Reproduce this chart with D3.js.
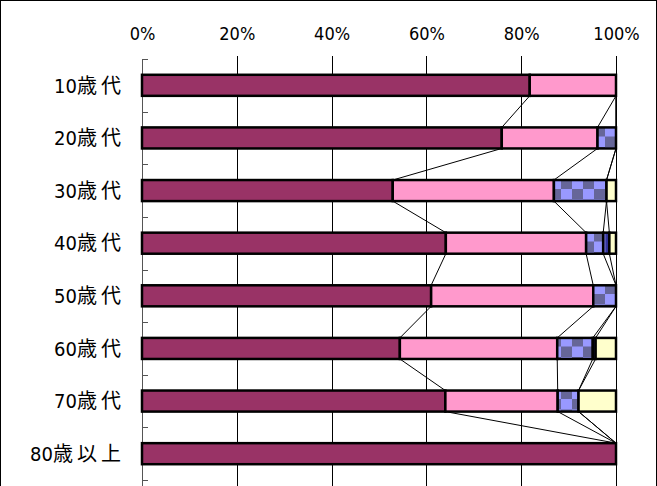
<!DOCTYPE html>
<html><head><meta charset="utf-8">
<script src="https://cdn.jsdelivr.net/npm/d3@7"></script>
<style>
html,body{margin:0;padding:0;background:#fff;}
svg{display:block;}
text{font-family:'Liberation Sans Narrow','DejaVu Sans Condensed','Noto Sans CJK JP',sans-serif;fill:#000;}
</style></head>
<body>
<script>
const categories = ["10歳代","20歳代","30歳代","40歳代","50歳代","60歳代","70歳代","80歳以上"];
const series1 = [81.8, 75.9, 52.9, 64.1, 61.0, 54.4, 64.0, 100];
const series2 = [18.2, 20.2, 34.0, 29.6, 34.2, 33.2, 23.7, 0];
const series3 = [0, 3.9, 11.1, 3.6, 4.8, 7.5, 4.4, 0];
const series4 = [0, 0, 0, 1.3, 0, 0.6, 0, 0];
const series5 = [0, 0, 2.0, 1.4, 0, 4.3, 7.9, 0];
const tickValues = [0, 20, 40, 60, 80, 100];

const W = 657, H = 486;
const svg = d3.select("body").append("svg").attr("width", W).attr("height", H);
const defs = svg.append("defs");
const chk = defs.append("pattern").attr("id","chk").attr("patternUnits","userSpaceOnUse")
  .attr("width",22).attr("height",21).attr("x",0).attr("y",0);
chk.append("rect").attr("width",22).attr("height",21).attr("fill","#9999ff");
chk.append("rect").attr("width",11).attr("height",10.5).attr("fill","#666699");
chk.append("rect").attr("x",11).attr("y",10.5).attr("width",11).attr("height",10.5).attr("fill","#666699");
const dk = defs.append("pattern").attr("id","dk").attr("patternUnits","userSpaceOnUse")
  .attr("width",4).attr("height",4);
dk.append("rect").attr("width",4).attr("height",4).attr("fill","#333399");
dk.append("rect").attr("width",1.5).attr("height",4).attr("fill","#7777dd");

const fills = ["#993366","#ff99cc","url(#chk)","url(#dk)","#ffffcc"];
const seriesList = [series1, series2, series3, series4, series5];

// outer border
svg.append("rect").attr("x",0.5).attr("y",0.5).attr("width",W-1).attr("height",H+10)
  .attr("fill","none").attr("stroke","#000").attr("stroke-width",1);

const x = d3.scaleLinear().domain([0,100]).range([142,616]);
const y = d3.scaleBand().domain(categories).range([59,480]).paddingInner(0.6).paddingOuter(0.3);

// gridlines
svg.append("g").selectAll("line").data(tickValues.slice(1)).join("line")
  .attr("x1", d => Math.round(x(d))+0.5).attr("x2", d => Math.round(x(d))+0.5)
  .attr("y1", 56).attr("y2", 486).attr("stroke","#000").attr("stroke-width",1);

// top axis labels
const xAxis = d3.axisTop(x).tickValues(tickValues).tickFormat(d => d + "%").tickSize(0).tickPadding(0);
const gx = svg.append("g").attr("transform","translate(0,40)").call(xAxis);
gx.select(".domain").remove();
gx.selectAll("text").attr("font-size","18px").attr("font-family",null);

// left axis
svg.append("line").attr("x1",142.5).attr("x2",142.5).attr("y1",59).attr("y2",486)
  .attr("stroke","#555").attr("stroke-width",1);
const step = y.step();
const top0 = y.range()[0];
const boundaries = d3.range(categories.length+1).map(i => top0 + i*step);
svg.append("g").selectAll("line").data(boundaries).join("line")
  .attr("x1",142).attr("x2",148).attr("y1",d=>Math.round(d)+0.5).attr("y2",d=>Math.round(d)+0.5)
  .attr("stroke","#555").attr("stroke-width",1);

const yAxis = d3.axisLeft(y).tickSize(0).tickPadding(17).tickFormat(() => "");
const gy = svg.append("g").attr("transform","translate(142,0)").call(yAxis);
gy.select(".domain").remove();
gy.selectAll("text").attr("font-size","20px").attr("font-family","'Noto Sans CJK JP',sans-serif")
  .attr("dy","0.36em")
  .each(function(d) {
    const m = d.match(/^(\d+)(.*)$/);
    const t = d3.select(this);
    t.append("tspan").attr("letter-spacing","0px").text(m[1]);
    t.append("tspan").attr("letter-spacing","4px").text(m[2]);
  });

// stacking
const rows = categories.map((c,i) => {
  let acc = 0;
  return seriesList.map((s,k) => { const x0 = acc; acc += s[i]; return {c, k, x0, x1: acc}; });
});

// series lines
const lines = [];
for (let i = 0; i < categories.length-1; i++) {
  for (let k = 0; k < 4; k++) {
    lines.push({xa: rows[i][k].x1, ya: y(categories[i]) + y.bandwidth(), xb: rows[i+1][k].x1, yb: y(categories[i+1])});
  }
}
svg.append("g").selectAll("line").data(lines).join("line")
  .attr("x1", d => x(d.xa)).attr("y1", d => d.ya).attr("x2", d => x(d.xb)).attr("y2", d => d.yb)
  .attr("stroke","#000").attr("stroke-width",1);

// bars
svg.append("g").selectAll("g").data(rows).join("g")
  .selectAll("rect").data(d => d.filter(s => s.x1 - s.x0 > 0)).join("rect")
  .attr("x", d => x(d.x0)).attr("width", d => x(d.x1) - x(d.x0))
  .attr("y", d => y(d.c)).attr("height", y.bandwidth())
  .attr("fill", d => fills[d.k]).attr("stroke","#000").attr("stroke-width",2.5);
</script>
</body></html>
